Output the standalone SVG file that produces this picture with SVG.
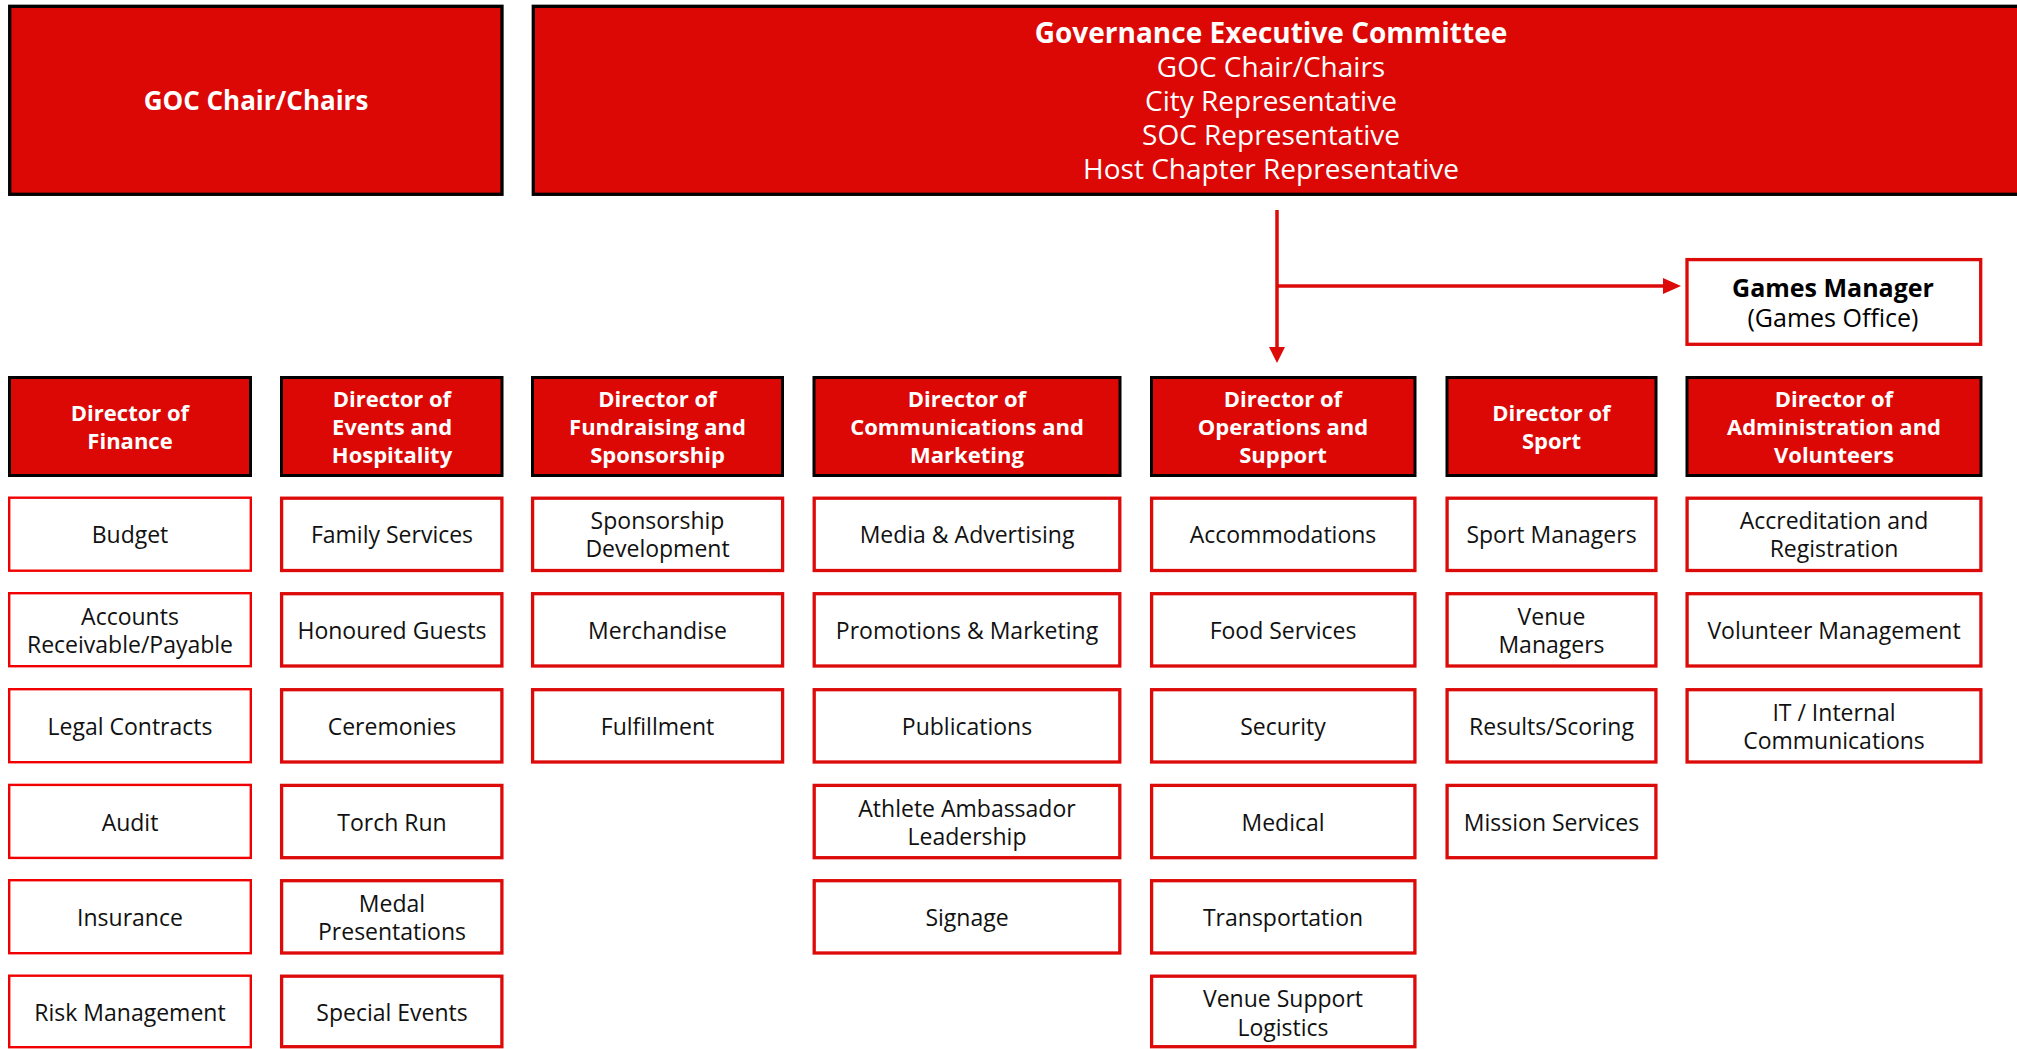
<svg xmlns="http://www.w3.org/2000/svg" width="2017" height="1049" viewBox="0 0 2017 1049">
<style>
text{font-family:"Open Sans","Noto Sans","Liberation Sans",sans-serif;text-anchor:middle}
.top{fill:#DC0806;stroke:#000;stroke-width:3.3}
.dir{fill:#DC0806;stroke:#000;stroke-width:3}
.sub{fill:#fff;stroke:#DD0A0A;stroke-width:3.3}
.subf{fill:#fff;stroke:#F00000;stroke-width:2.4}
.gm{fill:#fff;stroke:#DD0A0A;stroke-width:3.3}
.tw{fill:#fff;font-size:28px}
.tb{font-weight:700}
.dt{fill:#fff;font-size:22px;font-weight:700}
.st{fill:#111;font-size:23px}
.con{stroke:#DD0A0A;stroke-width:3.5;fill:none}
.ah{fill:#DD0A0A}
</style>
<rect width="2017" height="1049" fill="#fff"/>

<g id="goc-chair">
<rect class="top" x="9.7" y="6.3" width="492.3" height="188"/>
<text class="tw tb" x="256" y="110" style="font-size:26px">GOC Chair/Chairs</text>
</g>
<g id="governance-committee">
<rect class="top" x="533.3" y="6.3" width="1500" height="188"/>
<text class="tw tb" x="1271" y="42.5">Governance Executive Committee</text>
<text class="tw" x="1271" y="76.5">GOC Chair/Chairs</text>
<text class="tw" x="1271" y="110.5">City Representative</text>
<text class="tw" x="1271" y="144.5">SOC Representative</text>
<text class="tw" x="1271" y="178.5">Host Chapter Representative</text>
</g>

<g id="connectors">
<line class="con" x1="1277" y1="210" x2="1277" y2="349"/>
<polygon class="ah" points="1269,347 1285,347 1277,363"/>
<line class="con" x1="1277" y1="286" x2="1665" y2="286"/>
<polygon class="ah" points="1663,278 1663,294 1681,286"/>
</g>

<g id="games-manager">
<rect class="gm" x="1687" y="259.6" width="293.7" height="84.7"/>
<text x="1833" y="297" style="font-size:25px;font-weight:700;fill:#000">Games Manager</text>
<text x="1833" y="327" style="font-size:25px;fill:#000">(Games Office)</text>
</g>

<g id="dir-finance">
<rect class="dir" x="9.5" y="377.5" width="241" height="98"/>
<text class="dt" x="130" y="421">Director of</text>
<text class="dt" x="130" y="449">Finance</text>
</g>
<g id="dir-events">
<rect class="dir" x="281.5" y="377.5" width="220.5" height="98"/>
<text class="dt" x="392" y="406.5">Director of</text>
<text class="dt" x="392" y="434.5">Events and</text>
<text class="dt" x="392" y="462.5">Hospitality</text>
</g>
<g id="dir-fundraising">
<rect class="dir" x="532.5" y="377.5" width="250" height="98"/>
<text class="dt" x="657.5" y="406.5">Director of</text>
<text class="dt" x="657.5" y="434.5">Fundraising and</text>
<text class="dt" x="657.5" y="462.5">Sponsorship</text>
</g>
<g id="dir-communications">
<rect class="dir" x="814" y="377.5" width="306" height="98"/>
<text class="dt" x="967" y="406.5">Director of</text>
<text class="dt" x="967" y="434.5">Communications and</text>
<text class="dt" x="967" y="462.5">Marketing</text>
</g>
<g id="dir-operations">
<rect class="dir" x="1151.5" y="377.5" width="263.5" height="98"/>
<text class="dt" x="1283" y="406.5">Director of</text>
<text class="dt" x="1283" y="434.5">Operations and</text>
<text class="dt" x="1283" y="462.5">Support</text>
</g>
<g id="dir-sport">
<rect class="dir" x="1447" y="377.5" width="209" height="98"/>
<text class="dt" x="1551.5" y="421">Director of</text>
<text class="dt" x="1551.5" y="449">Sport</text>
</g>
<g id="dir-administration">
<rect class="dir" x="1687" y="377.5" width="294" height="98"/>
<text class="dt" x="1834" y="406.5">Director of</text>
<text class="dt" x="1834" y="434.5">Administration and</text>
<text class="dt" x="1834" y="462.5">Volunteers</text>
</g>

<!-- Finance column -->
<g id="budget"><rect class="subf" x="9.2" y="497.7" width="241.6" height="73"/><text class="st" x="130" y="543">Budget</text></g>
<g id="accounts"><rect class="subf" x="9.2" y="593.2" width="241.6" height="73"/><text class="st" x="130" y="624.5">Accounts</text><text class="st" x="130" y="653">Receivable/Payable</text></g>
<g id="legal"><rect class="subf" x="9.2" y="689.2" width="241.6" height="73"/><text class="st" x="130" y="735">Legal Contracts</text></g>
<g id="audit"><rect class="subf" x="9.2" y="784.9" width="241.6" height="73"/><text class="st" x="130" y="830.5">Audit</text></g>
<g id="insurance"><rect class="subf" x="9.2" y="880.2" width="241.6" height="73"/><text class="st" x="130" y="926">Insurance</text></g>
<g id="risk"><rect class="subf" x="9.2" y="975.7" width="241.6" height="71.5"/><text class="st" x="130" y="1021">Risk Management</text></g>

<!-- Events column -->
<g id="family"><rect class="sub" x="281.6" y="498.2" width="220.3" height="72.3"/><text class="st" x="392" y="543">Family Services</text></g>
<g id="honoured"><rect class="sub" x="281.6" y="593.7" width="220.3" height="72.3"/><text class="st" x="392" y="639">Honoured Guests</text></g>
<g id="ceremonies"><rect class="sub" x="281.6" y="689.7" width="220.3" height="72.3"/><text class="st" x="392" y="735">Ceremonies</text></g>
<g id="torch"><rect class="sub" x="281.6" y="785.4" width="220.3" height="72.3"/><text class="st" x="392" y="830.5">Torch Run</text></g>
<g id="medal"><rect class="sub" x="281.6" y="880.7" width="220.3" height="72.3"/><text class="st" x="392" y="911.5">Medal</text><text class="st" x="392" y="940">Presentations</text></g>
<g id="special"><rect class="sub" x="281.6" y="976.2" width="220.3" height="70.5"/><text class="st" x="392" y="1021">Special Events</text></g>

<!-- Fundraising column -->
<g id="sponsorship-dev"><rect class="sub" x="532.6" y="498.2" width="250" height="72.3"/><text class="st" x="657.5" y="528.5">Sponsorship</text><text class="st" x="657.5" y="557">Development</text></g>
<g id="merchandise"><rect class="sub" x="532.6" y="593.7" width="250" height="72.3"/><text class="st" x="657.5" y="639">Merchandise</text></g>
<g id="fulfillment"><rect class="sub" x="532.6" y="689.7" width="250" height="72.3"/><text class="st" x="657.5" y="735">Fulfillment</text></g>

<!-- Communications column -->
<g id="media"><rect class="sub" x="814.2" y="498.2" width="305.6" height="72.3"/><text class="st" x="967" y="543">Media &amp; Advertising</text></g>
<g id="promotions"><rect class="sub" x="814.2" y="593.7" width="305.6" height="72.3"/><text class="st" x="967" y="639">Promotions &amp; Marketing</text></g>
<g id="publications"><rect class="sub" x="814.2" y="689.7" width="305.6" height="72.3"/><text class="st" x="967" y="735">Publications</text></g>
<g id="athlete"><rect class="sub" x="814.2" y="785.4" width="305.6" height="72.3"/><text class="st" x="967" y="816.5">Athlete Ambassador</text><text class="st" x="967" y="845">Leadership</text></g>
<g id="signage"><rect class="sub" x="814.2" y="880.7" width="305.6" height="72.3"/><text class="st" x="967" y="926">Signage</text></g>

<!-- Operations column -->
<g id="accommodations"><rect class="sub" x="1151.6" y="498.2" width="263.3" height="72.3"/><text class="st" x="1283" y="543">Accommodations</text></g>
<g id="food"><rect class="sub" x="1151.6" y="593.7" width="263.3" height="72.3"/><text class="st" x="1283" y="639">Food Services</text></g>
<g id="security"><rect class="sub" x="1151.6" y="689.7" width="263.3" height="72.3"/><text class="st" x="1283" y="735">Security</text></g>
<g id="medical"><rect class="sub" x="1151.6" y="785.4" width="263.3" height="72.3"/><text class="st" x="1283" y="830.5">Medical</text></g>
<g id="transportation"><rect class="sub" x="1151.6" y="880.7" width="263.3" height="72.3"/><text class="st" x="1283" y="926">Transportation</text></g>
<g id="venue-support"><rect class="sub" x="1151.6" y="976.2" width="263.3" height="70.5"/><text class="st" x="1283" y="1007">Venue Support</text><text class="st" x="1283" y="1035.5">Logistics</text></g>

<!-- Sport column -->
<g id="sport-managers"><rect class="sub" x="1447.1" y="498.2" width="208.8" height="72.3"/><text class="st" x="1551.5" y="543">Sport Managers</text></g>
<g id="venue-managers"><rect class="sub" x="1447.1" y="593.7" width="208.8" height="72.3"/><text class="st" x="1551.5" y="624.5">Venue</text><text class="st" x="1551.5" y="653">Managers</text></g>
<g id="results"><rect class="sub" x="1447.1" y="689.7" width="208.8" height="72.3"/><text class="st" x="1551.5" y="735">Results/Scoring</text></g>
<g id="mission"><rect class="sub" x="1447.1" y="785.4" width="208.8" height="72.3"/><text class="st" x="1551.5" y="830.5">Mission Services</text></g>

<!-- Administration column -->
<g id="accreditation"><rect class="sub" x="1687.1" y="498.2" width="293.8" height="72.3"/><text class="st" x="1834" y="528.5">Accreditation and</text><text class="st" x="1834" y="557">Registration</text></g>
<g id="volunteer"><rect class="sub" x="1687.1" y="593.7" width="293.8" height="72.3"/><text class="st" x="1834" y="639">Volunteer Management</text></g>
<g id="it-internal"><rect class="sub" x="1687.1" y="689.7" width="293.8" height="72.3"/><text class="st" x="1834" y="720.5">IT / Internal</text><text class="st" x="1834" y="749">Communications</text></g>
</svg>
